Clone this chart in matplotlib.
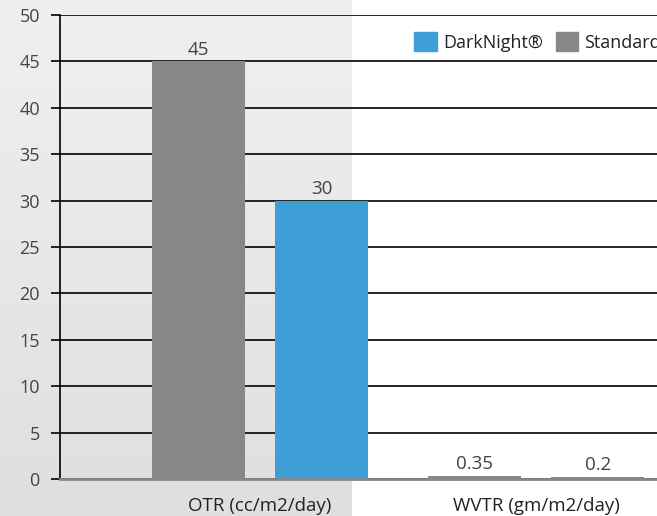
import numpy as np
import matplotlib.pyplot as plt
from matplotlib.patches import Patch

plt.rcParams['font.family'] = ['Open Sans', 'DejaVu Sans']

categories = ["OTR (cc/m2/day)", "WVTR (gm/m2/day)"]
standard = [45, 0.35]
darknight = [30, 0.2]
std_labels = ["45", "0.35"]
dn_labels = ["30", "0.2"]
yticks = list(range(0, 55, 5))

blue = "#3d9fd6"
grey = "#878787"

W, H = 657, 516
fig = plt.figure(figsize=(W / 100, H / 100), dpi=100)

# grey gradient panel on the left part of the figure
bg = fig.add_axes([0, 0, 352 / W, 1], zorder=-10)
grad = np.linspace(0, 1, 256).reshape(-1, 1)
bg.imshow(grad, aspect="auto", cmap=plt.matplotlib.colors.LinearSegmentedColormap.from_list(
    "g", ["#f0f0f0", "#dfdfdf"]), extent=[0, 1, 1, 0])
bg.axis("off")

ax = fig.add_axes([60 / W, 1 - 479 / H, 1 - 60 / W, 464 / H])
ax.patch.set_alpha(0)

x = np.arange(len(categories))
w = 0.337
b1 = ax.bar(x - 0.223, standard, w, color=grey, zorder=3)
b2 = ax.bar(x + 0.223, darknight, w, color=blue, zorder=3)
ax.bar_label(b1, labels=std_labels, padding=2, fontsize=13.5, color="#444444")
ax.bar_label(b2, labels=dn_labels, padding=2, fontsize=13.5, color="#444444")

ax.set_ylim(0, 50)
ax.set_xlim(-0.725, 1.438)
ax.set_yticks(yticks)
ax.set_yticklabels([str(t) for t in yticks], fontsize=13, color="#444444")
ax.tick_params(axis="y", length=6.5, width=1.2, color="black", pad=8)
ax.yaxis.get_major_ticks()[0].tick1line.set_color("#888888")
ax.grid(axis="y", color="black", linewidth=1.2, zorder=1)
ax.set_axisbelow(True)

ax.set_xticks(x)
ax.set_xticklabels(categories, fontsize=13.5, color="#222222")
ax.tick_params(axis="x", length=0, pad=13)

for s in ["top", "right"]:
    ax.spines[s].set_visible(False)
ax.spines["left"].set_color("black")
ax.spines["left"].set_linewidth(1.2)
ax.spines["bottom"].set_color("#888888")
ax.spines["bottom"].set_linewidth(2)
ax.spines["bottom"].set_zorder(4)

handles = [Patch(color=blue, label="DarkNight®"), Patch(color=grey, label="Standard")]
fig.legend(handles=handles, loc="upper left", bbox_to_anchor=(398 / W, 1 - 16 / H),
           ncol=2, frameon=False, fontsize=13, handlelength=1.25, handleheight=1.25,
           handletextpad=0.35, columnspacing=0.7, labelcolor="#222222")

fig.savefig("out.png", dpi=100)
